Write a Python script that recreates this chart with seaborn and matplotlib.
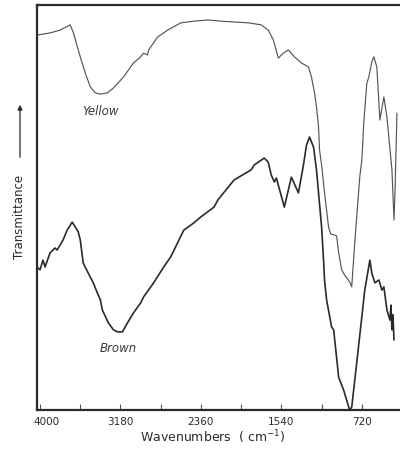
import matplotlib
matplotlib.use("Agg")
import matplotlib.pyplot as plt
import matplotlib.transforms as mtransforms
import seaborn as sns
import pandas as pd

# ---- data ----
yellow_wn = [4021, 3898, 3795, 3693, 3662, 3590, 3539, 3488, 3437, 3385, 3314, 3252,
             3150, 3047, 2975, 2945, 2904, 2893, 2801, 2699, 2565, 2432, 2288, 2155,
             2022, 1878, 1745, 1674, 1622, 1571, 1520, 1469, 1407, 1336, 1264, 1233,
             1202, 1182, 1161, 1151, 1130, 1100, 1059, 1038, 977, 956, 925, 895, 843,
             823, 792, 772, 741, 720, 700, 669, 649, 618, 597, 567, 536, 495, 464, 413,
             392, 382, 362]
yellow_t = [92.6, 93.1, 93.8, 95.1, 93.3, 87.2, 83.2, 79.8, 78.3, 78.0, 78.3, 79.5,
            82.2, 85.7, 87.2, 88.1, 87.7, 88.9, 92.1, 93.8, 95.6, 96.0, 96.3, 96.0,
            95.8, 95.6, 95.1, 93.8, 91.4, 86.9, 88.1, 88.9, 87.2, 85.7, 84.7, 82.2,
            78.3, 74.8, 69.9, 64.2, 60.5, 53.6, 45.2, 43.5, 43.0, 38.8, 34.6, 33.3, 31.6,
            30.4, 41.2, 47.7, 57.5, 61.7, 70.9, 80.7, 82.2, 85.9, 87.2, 84.7, 71.6, 77.3,
            72.3, 59.3, 46.9, 53.6, 73.3]

brown_wn = [4031, 4000, 3970, 3949, 3898, 3847, 3826, 3765, 3724, 3672, 3642, 3611,
            3590, 3560, 3488, 3457, 3416, 3385, 3365, 3303, 3252, 3211, 3160, 3109,
            3047, 2975, 2945, 2842, 2740, 2668, 2535, 2432, 2360, 2227, 2186, 2022,
            1848, 1817, 1715, 1674, 1643, 1612, 1591, 1510, 1438, 1366, 1315, 1284,
            1253, 1212, 1182, 1161, 1130, 1110, 1100, 1079, 1028, 1007, 956, 905, 853,
            843, 823, 772, 720, 690, 638, 618, 587, 546, 515, 495, 464, 433, 423, 413,
            403, 392]
brown_t = [35.3, 34.6, 37.0, 35.3, 38.8, 40.0, 39.5, 42.0, 44.4, 46.4, 45.2, 44.0,
           42.0, 36.3, 32.8, 31.4, 28.9, 27.2, 24.7, 21.5, 19.8, 19.3, 19.3, 21.5,
           24.0, 26.4, 27.9, 31.4, 35.3, 37.8, 44.4, 46.2, 47.7, 50.1, 51.9, 56.8,
           59.3, 60.5, 62.2, 61.2, 58.0, 56.3, 57.3, 50.1, 57.5, 53.6, 60.5, 65.4,
           67.4, 64.9, 59.3, 53.6, 45.2, 37.0, 32.1, 27.2, 20.5, 19.8, 8.1, 4.9, 0.7,
           0.0, 0.7, 11.6, 23.0, 29.6, 37.0, 33.8, 31.4, 32.1, 29.6, 30.4, 24.7, 22.2,
           25.9, 19.8, 23.5, 17.3]

major_ticks = [4000, 3180, 2360, 1540, 720]
minor_ticks = [3590, 2770, 1950, 1130, 310]
series_labels = ["Yellow", "Brown"]

# ---- figure ----
sns.set_theme(style="white")
plt.rcParams["font.family"] = ["DejaVu Sans"]

fig = plt.figure(figsize=(4.00, 4.54), dpi=100)
ax = fig.add_axes([37 / 400, 1 - 410 / 454, 1 - 37 / 400 + 0.01, (410 - 5) / 454])

df_y = pd.DataFrame({"wn": yellow_wn, "t": yellow_t})
df_b = pd.DataFrame({"wn": brown_wn, "t": brown_t})
sns.lineplot(data=df_y, x="wn", y="t", ax=ax, sort=False, estimator=None,
             color="#555555", lw=0.85)
sns.lineplot(data=df_b, x="wn", y="t", ax=ax, sort=False, estimator=None,
             color="#2a2a2a", lw=1.2)

ax.set_xlim(4031, 290)
ax.set_ylim(0, 100)

ax.set_xticks(major_ticks)
ax.set_xticklabels([str(v) for v in major_ticks], fontsize=7.5, color="#2a2a2a")
ax.set_xticks(minor_ticks, minor=True)
ax.tick_params(axis="x", which="both", direction="in", length=4, width=0.8,
               color="#555555", bottom=True, pad=5)
# first label sits slightly right of its tick in the reference
first = ax.get_xticklabels()[0]
first.set_transform(first.get_transform() +
                    mtransforms.ScaledTranslation(6 / 100, 0, fig.dpi_scale_trans))
ax.set_yticks([])
ax.set_xlabel("")
ax.set_ylabel("")

for side in ["left", "bottom", "top"]:
    ax.spines[side].set_visible(True)
    ax.spines[side].set_color("#2a2a2a")
    ax.spines[side].set_linewidth(1.6)
ax.spines["right"].set_visible(False)

ax.text(3385, 73.6, series_labels[0], fontsize=8.5, style="italic",
        color="#3a3a3a", ha="center", va="center")
ax.text(3200, 15.3, series_labels[1], fontsize=8.5, style="italic",
        color="#3a3a3a", ha="center", va="center")

fig.text(213 / 400, 1 - 437 / 454, "Wavenumbers  ( cm$^{-1}$)", fontsize=9,
         color="#2a2a2a", ha="center", va="center")
fig.text(20 / 400, 1 - 217 / 454, "Transmittance", fontsize=8.5, rotation=90,
         color="#2a2a2a", ha="center", va="center")
fig.add_artist(matplotlib.patches.FancyArrowPatch(
    (20 / 400, 1 - 160 / 454), (20 / 400, 1 - 102 / 454),
    transform=fig.transFigure, arrowstyle="-|>", mutation_scale=7,
    color="#2a2a2a", lw=0.9))

fig.savefig("out.png", dpi=100)
